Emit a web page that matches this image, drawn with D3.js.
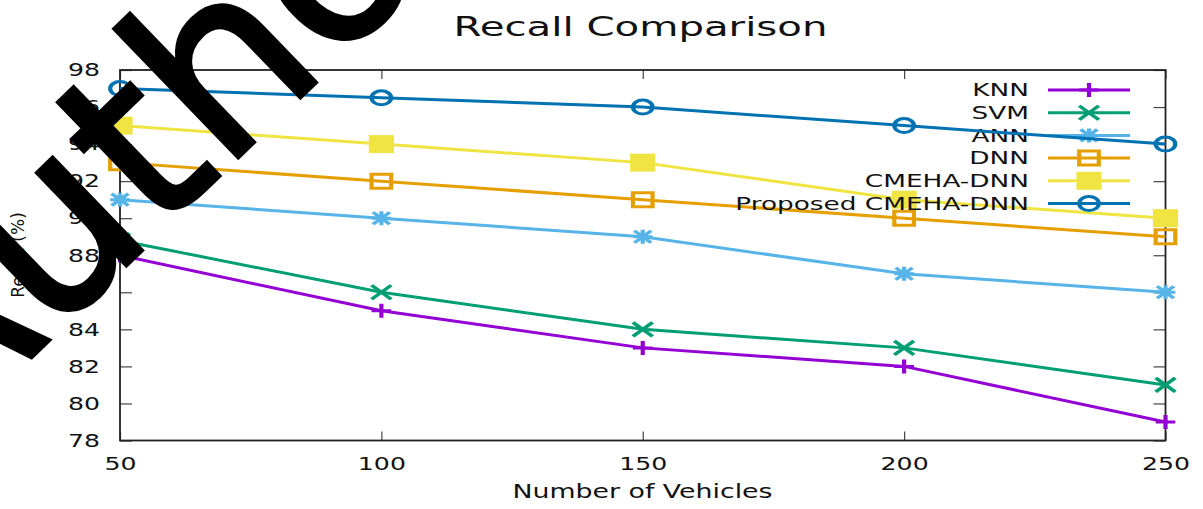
<!DOCTYPE html>
<html>
<head>
<meta charset="utf-8">
<script src="https://cdn.jsdelivr.net/npm/d3@7"></script>
<style>
  body { margin: 0; background: #fff; }
  text { font-family: "DejaVu Sans", sans-serif; }
</style>
</head>
<body>
<svg id="chart" width="1203" height="509"></svg>
<script>
// data
const vehicles = [50, 100, 150, 200, 250];
const yTicks = [78, 80, 82, 84, 86, 88, 90, 92, 94, 96, 98];
const seriesNames = ["KNN", "SVM", "ANN", "DNN", "CMEHA-DNN", "Proposed CMEHA-DNN"];
const knn = [88, 85, 83, 82, 79];
const svm = [88.8, 86, 84, 83, 81];
const ann = [91, 90, 89, 87, 86];
const dnn = [93, 92, 91, 90, 89];
const cmeha = [95, 94, 93, 91, 90];
const proposed = [97, 96.5, 96, 95, 94];

const colors = ["#9400d3", "#009e73", "#56b4e9", "#e69f00", "#f0e442", "#0072b2"];
const markers = ["plus", "cross", "star", "square", "filled", "circle"];
const values = [knn, svm, ann, dnn, cmeha, proposed];

const svg = d3.select("#chart");
svg.append("rect").attr("width", 1203).attr("height", 509).attr("fill", "#fff");

const plotL = 120, plotR = 1165.5, plotT = 70, plotB = 440.5;
const x = d3.scaleLinear().domain([50, 250]).range([plotL, plotR]);
const y = d3.scaleLinear().domain([78, 98]).range([plotB, plotT]);

// picture is stretched sideways, so text gets a horizontal scale
function stretch(sel, k) {
  sel.each(function () {
    const t = d3.select(this);
    const tx = +t.attr("x") || 0, ty = +t.attr("y") || 0;
    t.attr("x", 0).attr("y", 0)
      .attr("transform", `translate(${tx},${ty}) scale(${k},1)`);
  });
}

// axes (ticks inward, mirrored)
const gl = svg.append("g").attr("transform", `translate(${plotL},0)`)
  .call(d3.axisLeft(y).tickValues(yTicks).tickSize(-12).tickPadding(20));
const gr = svg.append("g").attr("transform", `translate(${plotR},0)`)
  .call(d3.axisRight(y).tickValues(yTicks).tickSize(-12).tickFormat(""));
const gb = svg.append("g").attr("transform", `translate(0,${plotB})`)
  .call(d3.axisBottom(x).tickValues(vehicles).tickSize(-9).tickPadding(17));
const gt = svg.append("g").attr("transform", `translate(0,${plotT})`)
  .call(d3.axisTop(x).tickValues(vehicles).tickSize(-9).tickFormat(""));

[gl, gr, gb, gt].forEach(g => {
  g.select(".domain").remove();
  g.selectAll("line").attr("stroke", "#444").attr("stroke-width", 1.2);
  g.selectAll("text").attr("font-size", 18).attr("fill", "#111")
    .attr("font-family", "DejaVu Sans");
});
stretch(gl.selectAll("text"), 1.4);
stretch(gb.selectAll("text"), 1.4);

svg.append("rect")
  .attr("x", plotL).attr("y", plotT)
  .attr("width", plotR - plotL).attr("height", plotB - plotT)
  .attr("fill", "none").attr("stroke", "#222").attr("stroke-width", 1.8);

// titles
svg.append("text").attr("x", 640.5).attr("y", 36)
  .attr("text-anchor", "middle").attr("font-size", 26.5).attr("fill", "#111")
  .text("Recall Comparison").call(s => stretch(s, 1.52));

svg.append("text").attr("x", 642.5).attr("y", 498)
  .attr("text-anchor", "middle").attr("font-size", 20).attr("fill", "#111")
  .text("Number of Vehicles").call(s => stretch(s, 1.34));

svg.append("text")
  .attr("transform", "translate(24,255) rotate(-90)")
  .attr("text-anchor", "middle").attr("font-size", 17).attr("fill", "#111")
  .text("Recall (%)");

function marker(g, type, cx, cy, color) {
  const m = g.append("g").attr("transform", `translate(${cx},${cy}) scale(1.4,1)`);
  let el;
  if (type === "plus") el = m.append("path").attr("d", "M-7,0H7M0,-7V7");
  else if (type === "cross") el = m.append("path").attr("d", "M-7,-7L7,7M-7,7L7,-7");
  else if (type === "star") el = m.append("path").attr("d", "M-7,0H7M0,-7V7M-6,-6L6,6M-6,6L6,-6");
  else if (type === "square") el = m.append("path").attr("d", "M-7,-7H7V7H-7Z");
  else if (type === "circle") el = m.append("circle").attr("r", 7);
  else {
    m.append("rect").attr("x", -9).attr("y", -9).attr("width", 18).attr("height", 18)
      .attr("fill", color);
    return;
  }
  el.attr("stroke", color).attr("stroke-width", 3).attr("fill", "none");
}

const line = d3.line().x((d, i) => x(vehicles[i])).y(d => y(d));

seriesNames.forEach((name, s) => {
  const g = svg.append("g");
  // legend entry
  const ly = 90 + s * 22.7;
  g.append("text").attr("x", 1029).attr("y", ly).attr("dy", "0.36em")
    .attr("text-anchor", "end").attr("font-size", 17).attr("fill", "#111")
    .text(name).call(t => stretch(t, 1.55));
  g.append("line").attr("x1", 1048).attr("x2", 1130).attr("y1", ly).attr("y2", ly)
    .attr("stroke", colors[s]).attr("stroke-width", 3);
  marker(g, markers[s], 1089, ly, colors[s]);

  g.append("path").datum(values[s]).attr("d", line)
    .attr("fill", "none").attr("stroke", colors[s]).attr("stroke-width", 3);
  values[s].forEach((v, i) => marker(g, markers[s], x(vehicles[i]), y(v), colors[s]));
});

// watermark over the plot
svg.append("text")
  .attr("transform", "translate(330,-25) scale(0.93) translate(-330,25) translate(-95,486) rotate(-44)")
  .attr("font-family", "Liberation Sans")
  .attr("font-size", 252).attr("fill", "#000")
  .attr("stroke", "#000").attr("stroke-width", 5)
  .text("Author");
</script>
</body>
</html>
